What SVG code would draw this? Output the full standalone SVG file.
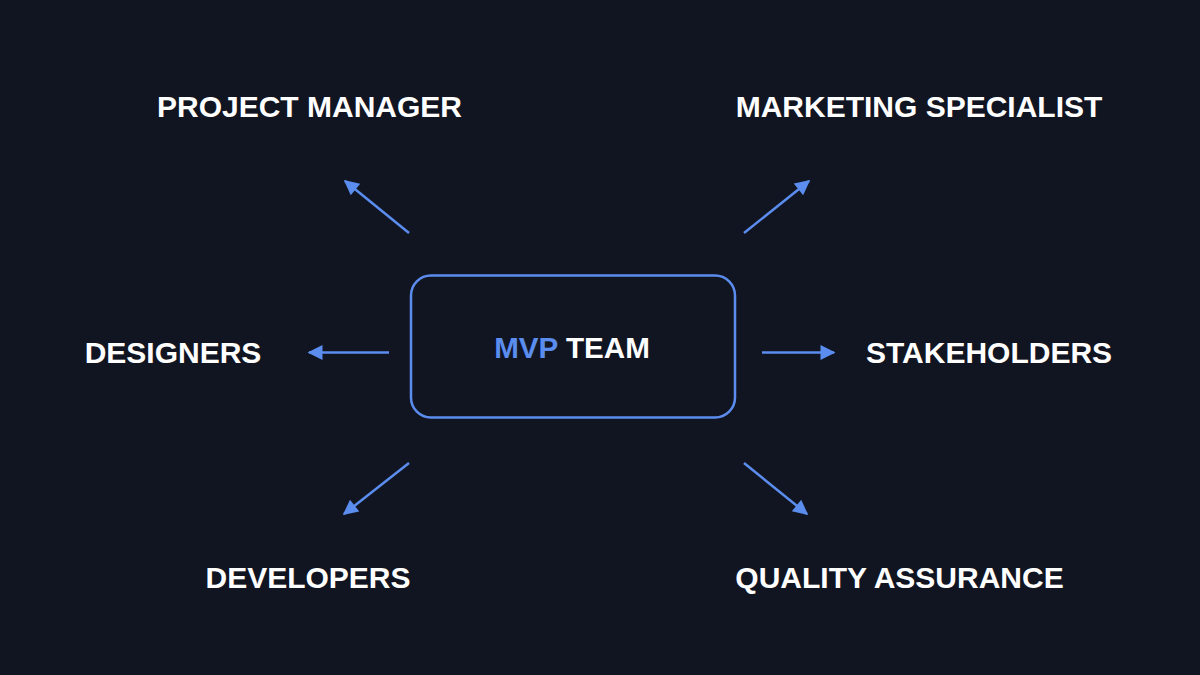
<svg xmlns="http://www.w3.org/2000/svg" width="1200" height="675" viewBox="0 0 1200 675">
<defs>
<style>
.lbl{font-family:"Liberation Sans",Arial,sans-serif;font-weight:bold;font-size:30px;fill:#ffffff;text-anchor:middle}
.conn line{stroke:#5B8DEF;stroke-width:2.5;fill:none}
</style>
<marker id="ah" viewBox="0 0 10 10" refX="9" refY="5" markerWidth="7" markerHeight="6" markerUnits="strokeWidth" orient="auto">
<path d="M0,0 L10,5 L0,10 Z" fill="#5B8DEF"/>
</marker>
</defs>
<rect width="1200" height="675" fill="#111522"/>
<g id="center">
<rect x="411" y="275.5" width="324" height="142" rx="20" fill="#111522" stroke="#5B8DEF" stroke-width="2.5"/>
<text x="572" y="358" class="lbl" style="font-size:29.6px"><tspan fill="#5B8DEF">MVP</tspan> TEAM</text>
</g>
<g class="conn">
<line x1="409" y1="233" x2="345" y2="181" marker-end="url(#ah)"/>
<line x1="389" y1="352.5" x2="309" y2="352.5" marker-end="url(#ah)"/>
<line x1="409" y1="463" x2="344" y2="514" marker-end="url(#ah)"/>
<line x1="744" y1="233" x2="809" y2="181" marker-end="url(#ah)"/>
<line x1="762" y1="352.5" x2="834" y2="352.5" marker-end="url(#ah)"/>
<line x1="744" y1="463" x2="807" y2="514" marker-end="url(#ah)"/>
</g>
<g id="pm"><text x="309.5" y="117" class="lbl">PROJECT MANAGER</text></g>
<g id="ms"><text x="919" y="117" class="lbl">MARKETING SPECIALIST</text></g>
<g id="des"><text x="173" y="363" class="lbl">DESIGNERS</text></g>
<g id="stk"><text x="989" y="363" class="lbl">STAKEHOLDERS</text></g>
<g id="dev"><text x="308" y="588" class="lbl">DEVELOPERS</text></g>
<g id="qa"><text x="899.5" y="588" class="lbl">QUALITY ASSURANCE</text></g>
</svg>
